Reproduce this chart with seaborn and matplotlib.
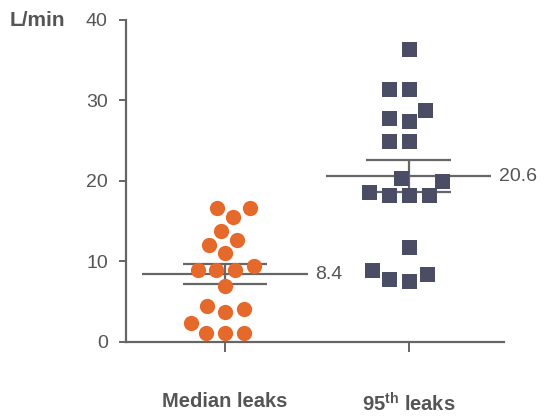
import numpy as np
import pandas as pd
import matplotlib
matplotlib.use("Agg")
import matplotlib.pyplot as plt
import seaborn as sns

# Leak flow per patient (L/min)
median_leaks = [16.6, 16.6, 15.5, 13.8, 12.1, 12.7, 11.0, 9.4, 9.0, 9.0, 9.0,
                7.0, 4.1, 3.7, 4.5, 2.4, 1.1, 1.1, 1.1]
p95_leaks = [36.4, 31.4, 31.4, 28.8, 27.8, 27.4, 25.0, 25.0, 20.0, 20.4, 18.2,
             18.2, 18.2, 18.6, 11.8, 8.4, 7.6, 7.8, 9.0]

groups = ["median", "p95"]
tick_labels = ["Median leaks", r"95$^{\bf th}$ leaks"]
y_ticks = [0, 10, 20, 30, 40]
unit_label = "L/min"

ORANGE = "#E5692A"
SLATE = "#4A4D64"
GREY = "#666666"
TEXT = "#555555"
CLEAR = (1, 1, 1, 0)  # invisible edge that still widens swarm spacing

sns.set_theme(style="white")
plt.rcParams["font.family"] = ["Liberation Sans", "DejaVu Sans"]
plt.rcParams["mathtext.fontset"] = "custom"
plt.rcParams["mathtext.rm"] = "Liberation Sans"
plt.rcParams["mathtext.bf"] = "Liberation Sans:bold"

df = pd.DataFrame({
    "group": [groups[0]] * len(median_leaks) + [groups[1]] * len(p95_leaks),
    "flow": median_leaks + p95_leaks,
})

fig = plt.figure(figsize=(5.45, 4.16), dpi=100)
ax = fig.add_axes([0.231, 0.178, 0.694, 0.774])

sns.swarmplot(data=df[df.group == groups[0]], x="group", y="flow", order=groups,
              marker="o", color=ORANGE, size=11, linewidth=2.0,
              edgecolor=CLEAR, ax=ax, zorder=3)
sns.swarmplot(data=df[df.group == groups[1]], x="group", y="flow", order=groups,
              marker="s", color=SLATE, size=10.8, linewidth=2.9,
              edgecolor=CLEAR, ax=ax, zorder=3)

# mean line with SEM bars for each group
for i, vals in enumerate([median_leaks, p95_leaks]):
    v = np.asarray(vals)
    m = v.mean()
    sem = v.std(ddof=1) / np.sqrt(len(v))
    ax.hlines(m, i - 0.45, i + 0.45, color=GREY, lw=1.6, zorder=2)
    ax.hlines([m - sem, m + sem], i - 0.23, i + 0.23, color=GREY, lw=1.6, zorder=2)
    ax.vlines(i, m - sem, m + sem, color=GREY, lw=1.6, zorder=2)
    ax.text(i + 0.49, m, f"{m:.1f}", ha="left", va="center",
            fontsize=14, color=TEXT)

ax.set_xlim(-0.54, 1.52)
ax.set_ylim(0, 40)
ax.set_yticks(y_ticks)
ax.set_xticks(range(len(groups)))
ax.set_xticklabels(tick_labels, fontsize=14.5, fontweight="bold", color=TEXT)
ax.set_xlabel("")
ax.set_ylabel("")

sns.despine(ax=ax)
for side in ("left", "bottom"):
    ax.spines[side].set_color(GREY)
    ax.spines[side].set_linewidth(1.6)

ax.tick_params(axis="y", left=True, length=5, width=1.4, color=GREY,
               labelsize=14, labelcolor=TEXT, pad=8)
ax.tick_params(axis="x", bottom=True, length=7, width=1.4, color=GREY, pad=29)

fig.text(10 / 545, 1 - 21 / 416, unit_label, fontsize=15, fontweight="bold",
         color=TEXT, ha="left", va="center")

fig.savefig("out.png", dpi=100)
